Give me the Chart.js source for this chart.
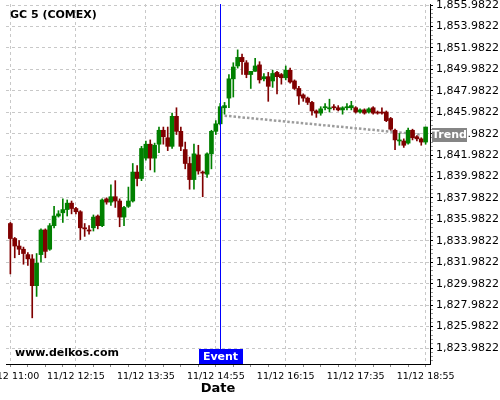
<!DOCTYPE html>
<html>
<head>
<meta charset="utf-8">
<script src="https://cdn.jsdelivr.net/npm/chart.js@4.4.0/dist/chart.umd.min.js"></script>
<style>
  html, body { margin: 0; padding: 0; background: #fff; }
  canvas { display: block; }
</style>
</head>
<body>
<canvas id="chart" width="500" height="400"></canvas>
<script>
// --- data (5 min candles, 11/12) ---
var chartTitle = 'GC 5 (COMEX)';
var watermark = 'www.delkos.com';
var datePrefix = '11/12';
var axisTitle = 'Date';

var times = [
  '11:00','11:05','11:10','11:15','11:20','11:25','11:30','11:35','11:40','11:45','11:50','11:55',
  '12:00','12:05','12:10','12:15','12:20','12:25','12:30','12:35','12:40','12:45','12:50','12:55',
  '13:00','13:05','13:10','13:15','13:20','13:25','13:30','13:35','13:40','13:45','13:50','13:55',
  '14:00','14:05','14:10','14:15','14:20','14:25','14:30','14:35','14:40','14:45','14:50','14:55',
  '15:00','15:05','15:10','15:15','15:20','15:25','15:30','15:35','15:40','15:45','15:50','15:55',
  '16:00','16:05','16:10','16:15','16:20','16:25','16:30','16:35','16:40','16:45','16:50','16:55',
  '17:00','17:05','17:10','17:15','17:20','17:25','17:30','17:35','17:40','17:45','17:50','17:55',
  '18:00','18:05','18:10','18:15','18:20','18:25','18:30','18:35','18:40','18:45','18:50','18:55'
];

var opens = [
  1835.6,1834.2,1833.5,1833.2,1832.7,1832.3,1829.8,1832.7,1835.0,1833.2,1835.4,1836.3,
  1836.6,1836.9,1837.5,1837.0,1836.7,1835.2,1835.0,1835.2,1836.3,1835.4,1837.9,1837.6,
  1838.1,1837.7,1836.2,1837.2,1837.7,1840.4,1839.8,1841.7,1843.0,1841.7,1843.0,1844.3,
  1843.6,1842.8,1845.6,1844.2,1842.5,1841.2,1839.7,1842.0,1840.4,1840.2,1842.1,1844.2,
  1844.9,1846.4,1847.3,1849.1,1850.3,1851.1,1850.6,1849.5,1849.8,1850.4,1849.1,1849.3,
  1848.9,1849.7,1849.5,1849.2,1849.9,1848.9,1848.2,1847.6,1847.3,1846.9,1846.1,1845.9,
  1846.4,1846.3,1846.5,1846.4,1846.2,1846.4,1846.4,1846.4,1846.0,1846.2,1846.0,1846.4,
  1846.0,1846.0,1846.0,1845.4,1844.3,1843.3,1843.3,1843.1,1844.3,1843.7,1843.5,1843.2
];
var highs = [
  1835.7,1834.3,1834.0,1833.4,1832.9,1832.7,1832.8,1835.1,1835.1,1835.6,1837.2,1836.8,
  1837.9,1837.8,1837.7,1837.1,1836.8,1835.6,1835.4,1836.4,1836.4,1837.9,1838.0,1839.2,
  1839.6,1837.9,1837.2,1839.0,1841.2,1841.0,1842.8,1843.3,1843.4,1843.1,1844.6,1844.6,
  1844.6,1845.9,1846.4,1844.6,1843.2,1841.8,1843.0,1842.9,1840.5,1842.2,1844.3,1845.2,
  1846.8,1846.9,1849.5,1850.6,1851.8,1851.4,1850.8,1849.8,1851.0,1850.7,1849.6,1849.7,
  1849.9,1849.8,1849.6,1850.3,1850.1,1849.0,1848.4,1847.7,1847.4,1847.0,1846.2,1846.5,
  1846.8,1847.2,1846.7,1846.6,1846.5,1846.8,1847.0,1846.5,1846.3,1846.3,1846.4,1846.5,
  1846.1,1846.4,1846.1,1845.5,1844.4,1844.0,1843.5,1844.5,1844.4,1843.8,1843.6,1844.6
];
var lows = [
  1830.9,1832.4,1832.7,1831.8,1831.7,1826.8,1828.8,1832.0,1832.4,1833.1,1835.2,1836.2,
  1835.7,1836.3,1836.5,1836.5,1834.1,1834.4,1834.6,1834.9,1835.1,1835.3,1837.4,1837.3,
  1837.1,1835.3,1835.4,1837.1,1837.6,1839.1,1839.6,1841.5,1840.6,1840.4,1842.2,1843.0,
  1842.4,1842.6,1843.9,1842.4,1840.7,1838.8,1838.8,1840.2,1838.1,1839.9,1840.7,1843.9,
  1844.8,1845.8,1846.4,1847.4,1850.1,1849.5,1849.2,1848.2,1849.8,1848.7,1848.9,1847.0,
  1848.3,1847.7,1848.6,1849.0,1848.7,1848.1,1846.7,1847.0,1846.7,1845.7,1845.5,1845.7,
  1846.2,1846.0,1846.2,1846.1,1845.8,1846.2,1846.2,1845.9,1845.9,1845.8,1845.9,1845.8,
  1845.8,1845.8,1845.1,1844.3,1842.5,1842.9,1842.7,1843.0,1843.4,1843.3,1842.9,1843.0
];
var closes = [
  1834.2,1833.5,1833.2,1832.8,1832.3,1829.8,1831.9,1835.0,1833.0,1835.4,1836.3,1836.5,
  1836.9,1837.5,1837.0,1836.7,1835.2,1835.1,1834.9,1836.2,1835.4,1837.8,1837.6,1838.1,
  1837.7,1836.2,1837.1,1837.7,1840.4,1839.8,1842.6,1843.0,1841.7,1842.9,1844.3,1843.7,
  1842.8,1845.6,1844.2,1842.8,1841.2,1839.7,1842.1,1840.5,1840.3,1842.1,1844.2,1844.9,
  1846.5,1846.6,1849.1,1850.2,1851.1,1850.7,1849.5,1849.8,1850.3,1849.0,1849.3,1848.4,
  1849.6,1849.3,1849.2,1849.9,1848.8,1848.2,1847.5,1847.3,1846.9,1846.1,1845.9,1846.3,
  1846.5,1846.4,1846.4,1846.2,1846.4,1846.5,1846.6,1846.0,1846.2,1845.9,1846.3,1845.9,
  1845.9,1845.9,1845.2,1844.4,1843.4,1843.4,1842.9,1844.3,1843.6,1843.5,1843.2,1844.6
];

var majorTimes = ['11:00','12:15','13:35','14:55','16:15','17:35','18:55'];
var yTicks = [
  1823.9822,1825.9822,1827.9822,1829.9822,1831.9822,1833.9822,1835.9822,1837.9822,1839.9822,
  1841.9822,1843.9822,1845.9822,1847.9822,1849.9822,1851.9822,1853.9822,1855.9822
];
var yMin = 1822.494, yMax = 1856.08;

var eventTime = '15:00';
var eventLabel = 'Event';
var trendTimes = ['15:05', '18:50'];
var trendValues = [1845.66, 1843.90];
var trendLabel = 'Trend';

// --- styling ---
var UP = '#008000', DOWN = '#800000';
var FONT = '"DejaVu Sans", sans-serif';
var GRID = '#c8c8c8';

function isMajor(i){ return majorTimes.indexOf(times[i]) >= 0; }
function fmtPrice(v){ return Number(v).toLocaleString('en-US', {minimumFractionDigits: 4, maximumFractionDigits: 4}); }

var candleColors = opens.map(function(o, i){ return closes[i] >= o ? UP : DOWN; });
var bodies = times.map(function(t, i){ return {x: i, y: [opens[i], closes[i]]}; });
var wicks = times.map(function(t, i){ return {x: i, y: [lows[i], highs[i]]}; });
var trend = trendTimes.map(function(t, i){ return {x: times.indexOf(t), y: trendValues[i]}; });

function box(ctx, cx, cy, w, h, fill, text){
  ctx.fillStyle = fill;
  ctx.fillRect(Math.round(cx - w / 2), Math.round(cy - h / 2), w, h);
  ctx.fillStyle = '#fff';
  ctx.textAlign = 'center';
  ctx.textBaseline = 'middle';
  ctx.fillText(text, cx, cy + 0.5);
}

var overlay = {
  id: 'overlay',
  afterDatasetsDraw: function(chart){
    var ctx = chart.ctx, x = chart.scales.x, area = chart.chartArea;
    var ex = Math.round(x.getPixelForValue(times.indexOf(eventTime))) + 0.5;
    ctx.save();
    ctx.strokeStyle = '#0000ff';
    ctx.lineWidth = 1;
    ctx.beginPath();
    ctx.moveTo(ex, area.top);
    ctx.lineTo(ex, area.bottom);
    ctx.stroke();
    ctx.restore();
  },
  afterDraw: function(chart){
    var ctx = chart.ctx, x = chart.scales.x, y = chart.scales.y, area = chart.chartArea;
    ctx.save();
    ctx.font = 'bold 11px ' + FONT;
    ctx.fillStyle = '#000';
    ctx.textAlign = 'left';
    ctx.textBaseline = 'middle';
    ctx.fillText(chartTitle, 10, 15.5);
    ctx.fillText(watermark, 15, 353.5);

    var ex = Math.round(x.getPixelForValue(times.indexOf(eventTime)));
    box(ctx, ex + 0.5, area.bottom - 7.5, 44, 15, '#0000ff', eventLabel);

    var ty = y.getPixelForValue(trendValues[trendValues.length - 1]);
    box(ctx, area.right + 19.5, ty, 35, 14, '#858585', trendLabel);
    ctx.restore();
  }
};

new Chart(document.getElementById('chart'), {
  type: 'bar',
  data: {
    datasets: [
      { label: 'body', data: bodies, backgroundColor: candleColors, borderWidth: 0,
        barThickness: 4, grouped: false, minBarLength: 1 },
      { label: 'wick', data: wicks, backgroundColor: candleColors, borderWidth: 0,
        barThickness: 1, grouped: false },
      { type: 'line', label: 'trend', data: trend, borderColor: '#9c9c9c', borderWidth: 2.5,
        borderDash: [2.5, 2], pointRadius: 0, fill: false, tension: 0 }
    ]
  },
  options: {
    responsive: false,
    animation: false,
    devicePixelRatio: 1,
    layout: { padding: { left: 6, top: 4, right: 0, bottom: 0 } },
    plugins: { legend: { display: false }, tooltip: { enabled: false } },
    scales: {
      x: {
        type: 'linear',
        min: -1, max: 96,
        offset: false,
        grid: {
          offset: false,
          color: function(c){ return c.tick && isMajor(c.tick.value) ? GRID : 'rgba(0,0,0,0)'; },
          tickColor: '#888',
          tickLength: 3
        },
        border: { display: true, color: '#000', width: 1, dash: [3, 3] },
        ticks: {
          autoSkip: false, maxRotation: 0, padding: 4,
          color: '#000', font: { family: FONT, size: 9.5 },
          callback: function(v){ return isMajor(v) ? datePrefix + ' ' + times[v] : ''; }
        },
        title: { display: true, text: axisTitle, color: '#000',
                 font: { family: FONT, size: 13, weight: 'bold' }, padding: { top: 0, bottom: 4 } },
        afterBuildTicks: function(scale){
          // a tick every 4 candles, restarting at each labelled time
          var t = [];
          for (var i = 0; i < times.length; i++) {
            var last = i;
            while (last > 0 && !isMajor(last)) last--;
            if (isMajor(i) || (i - last) % 4 === 0) t.push({value: i});
          }
          scale.ticks = t;
        },
        afterFit: function(scale){ scale.height = 36; scale.paddingLeft = 0; scale.paddingRight = 0; }
      },
      y: {
        type: 'linear',
        position: 'right',
        min: yMin, max: yMax,
        beginAtZero: false,
        grid: {
          color: function(c){ return c.tick && c.tick.mj ? GRID : 'rgba(0,0,0,0)'; },
          tickColor: function(c){ return c.tick && c.tick.mj ? '#000' : '#999'; },
          tickLength: 3
        },
        border: { display: true, color: '#000', width: 1, dash: [3, 3] },
        ticks: {
          autoSkip: false, padding: 3, color: '#000', font: { family: FONT, size: 11 },
          callback: function(v, i, ticks){ return ticks[i].mj ? fmtPrice(v) : ''; }
        },
        afterBuildTicks: function(scale){
          // labelled ticks plus four minor marks in each gap
          var t = [];
          for (var k = -5; k <= 5 * yTicks.length; k++) {
            var val = yTicks[0] + k * 0.4;
            if (val >= yMin && val <= yMax) t.push({value: val, mj: k % 5 === 0});
          }
          scale.ticks = t;
        },
        afterFit: function(scale){ scale.width = 70; scale.paddingTop = 0; scale.paddingBottom = 0; }
      }
    }
  },
  plugins: [overlay]
});
</script>
</body>
</html>
